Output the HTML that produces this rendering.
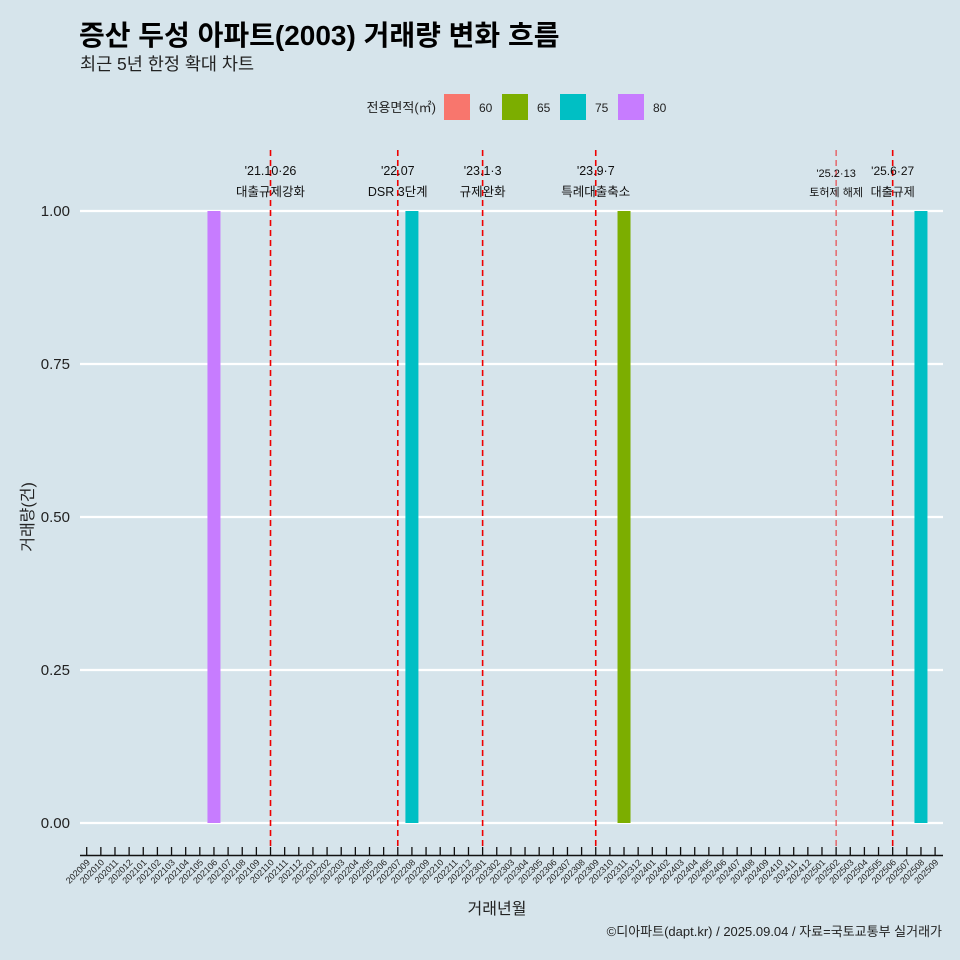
<!DOCTYPE html>
<html><head><meta charset="utf-8">
<style>
body{margin:0;background:#d6e4eb;}
svg{display:block;font-family:"Liberation Sans","Noto Sans CJK KR",sans-serif;}
</style></head>
<body>
<svg id="chart" width="960" height="960" viewBox="0 0 960 960" xmlns="http://www.w3.org/2000/svg">
<rect width="960" height="960" fill="#d6e4eb"/>
<text x="79" y="45" font-size="28" font-weight="bold" fill="#000">증산 두성 아파트(2003) 거래량 변화 흐름</text>
<text x="80" y="70" font-size="17.5" fill="#222">최근 5년 한정 확대 차트</text>
<g id="legend"></g>
<g id="grid"></g>
<g id="bars"></g>
<g id="events"></g>
<g id="xaxis"></g>
<g id="yaxis"></g>
<text x="497" y="914" font-size="16" text-anchor="middle" fill="#222">거래년월</text>
<text transform="translate(33,517) rotate(-90)" font-size="16" text-anchor="middle" fill="#222">거래량(건)</text>
<text x="942" y="936" font-size="13" text-anchor="end" fill="#222">©디아파트(dapt.kr) / 2025.09.04 / 자료=국토교통부 실거래가</text>
</svg>
<script>
const categories = [];
for (let y = 2020; y <= 2025; y++) for (let m = 1; m <= 12; m++) {
  const v = y * 100 + m; if (v >= 202009 && v <= 202509) categories.push(String(v));
}
const barMonths = ["202106", "202208", "202311", "202508"];
const barValues = [1, 1, 1, 1];
const barAreas = ["80", "75", "65", "75"];
const legendAreas = ["60", "65", "75", "80"];
const legendColors = ["#f8766d", "#7cae00", "#00bfc4", "#c77cff"];
const yTicks = [0, 0.25, 0.5, 0.75, 1];
const yTickLabels = ["0.00", "0.25", "0.50", "0.75", "1.00"];
const eventMonths = ["202110", "202207", "202301", "202309", "202502", "202506"];
const eventLine1 = ["'21.10·26", "'22.07", "'23.1·3", "'23.9·7", "'25.2·13", "'25.6·27"];
const eventLine2 = ["대출규제강화", "DSR 3단계", "규제완화", "특례대출축소", "토허제 해제", "대출규제"];

const NS = "http://www.w3.org/2000/svg";
const X0 = 86.7, STEP = 14.14, Y0 = 823, Y1 = 211;
const xScale = c => X0 + categories.indexOf(c) * STEP;
const yScale = v => Y0 - v * (Y0 - Y1);
function mk(tag, attrs, parent, text) {
  const e = document.createElementNS(NS, tag);
  for (const k in attrs) e.setAttribute(k, attrs[k]);
  if (text !== undefined) e.textContent = text;
  parent.appendChild(e); return e;
}
const colorOf = a => legendColors[legendAreas.indexOf(a)];

const lg = document.getElementById('legend');
mk('text', {x: 436, y: 112, 'font-size': 13, 'text-anchor': 'end', fill: '#222'}, lg, '전용면적(㎡)');
legendAreas.forEach((a, i) => {
  const x = 444 + i * 58;
  const r = mk('rect', {x: x, y: 94, width: 26, height: 26, fill: legendColors[i]}, lg);
  
  
  const t = mk('text', {x: x + 35, y: 112, 'font-size': 12, fill: '#222'}, lg, a);
  
  
});

const g = document.getElementById('grid'), ya = document.getElementById('yaxis');
yTicks.forEach((v, i) => {
  const l = mk('line', {x1: 80, x2: 943, y1: yScale(v), y2: yScale(v), stroke: '#fff', 'stroke-width': 2.2}, g);
  
  
  const t = mk('text', {x: 70, y: yScale(v) + 5, 'font-size': 15, 'text-anchor': 'end', fill: '#222'}, ya, yTickLabels[i]);
  
  
});

const bg = document.getElementById('bars');
barMonths.forEach((m, i) => {
  const x = xScale(m), w = 13;
  const r = mk('rect', {x: x - w / 2, y: yScale(barValues[i]), width: w, height: yScale(0) - yScale(barValues[i]), fill: colorOf(barAreas[i])}, bg);
  
  
});

const eg = document.getElementById('events');
eventMonths.forEach((m, i) => {
  const x = xScale(m);
  const faint = m === "202502";
  const l = mk('line', {x1: x, x2: x, y1: 150, y2: 846, stroke: faint ? '#e8474a' : '#ee0000', 'stroke-width': faint ? 1.2 : 1.6, 'stroke-dasharray': '6,4'}, eg);
  
  
  const small = m >= "202500";
  const fs = small ? (faint ? 11 : 12) : 12.5;
  const t1 = mk('text', {x: x, y: faint ? 177 : 175, 'font-size': fs, 'text-anchor': 'middle', fill: '#111'}, eg, eventLine1[i]);
  
  
  const t2 = mk('text', {x: x, y: 196, 'font-size': fs, 'text-anchor': 'middle', fill: '#111'}, eg, eventLine2[i]);
  
  
});

const xa = document.getElementById('xaxis');
const al = mk('line', {x1: 80, x2: 943, y1: 855.5, y2: 855.5, stroke: '#111', 'stroke-width': 1.5}, xa);


categories.forEach(c => {
  const x = xScale(c);
  const tk = mk('line', {x1: x, x2: x, y1: 847, y2: 856, stroke: '#111', 'stroke-width': 1.3}, xa);
  
  
  const t = mk('text', {x: x + 4, y: 863, 'font-size': 9, 'text-anchor': 'end', fill: '#222', transform: `rotate(-45 ${x + 4} 863)`}, xa, c);
  
  
});
</script>
</body></html>
